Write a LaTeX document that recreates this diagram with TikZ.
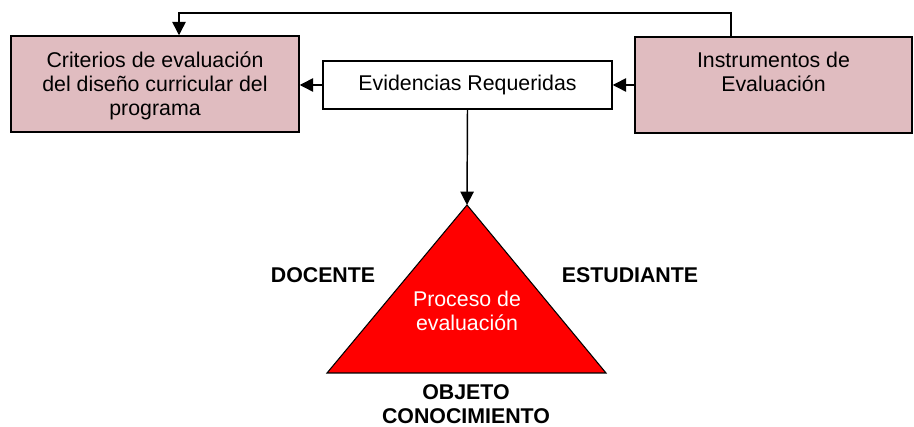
\documentclass[tikz,border=0pt]{standalone}
\usepackage{fontspec}
\setmainfont{Liberation Sans}
\usepackage{tikz}
\usetikzlibrary{arrows.meta}
\usetikzlibrary{positioning}
\definecolor{rosado}{RGB}{224,188,192}
\definecolor{rojo}{RGB}{255,0,0}
\tikzset{
  mapa/.style={
    x=0.75pt, y=-0.75pt,
    font={\fontsize{16}{18}\selectfont},
    caja/.style={rectangle, draw, line width=1.1pt, align=center, inner sep=0pt},
    caja rosa/.style={caja, fill=rosado},
    flecha/.style={line width=1.1pt, -{Triangle[length=10pt,width=10pt]}},
    polo/.style={font={\fontsize{16}{18}\selectfont\bfseries}, align=center},
  }
}

\begin{document}
\begin{tikzpicture}[mapa]
    \useasboundingbox (0,0) rectangle (914,427);

    \node[caja rosa, minimum width=216pt, minimum height=72pt] (criterios) at (155,84) {};
    \node[align=center] (criteriostxt) at (155,86)
        {Criterios de evaluación\\del diseño curricular del\\programa};
    \node[caja rosa, minimum width=207.75pt, minimum height=72pt] (instrumentos) at (773.5,85) {};
    \node[align=center] (instrumentostxt) at (773.5,72) {Instrumentos de\\Evaluación};
    \node[caja, fill=white, minimum width=216.75pt, minimum height=36pt] (evidencias) at (467.5,85)
        {Evidencias Requeridas};

    \coordinate (lazoder) at (731,13);
    \coordinate (lazoizq) at (179,13);
    \draw[flecha] (lazoder |- instrumentos.north) -- (lazoder) -- (lazoizq) -- (lazoizq |- criterios.north);
    \draw[flecha] (instrumentos.west |- evidencias.east) -- (evidencias.east);
    \draw[flecha] (evidencias.west) -- (criterios.east |- evidencias.west);

    \coordinate (vertice) at (467,205);
    \coordinate (baseizq) at (327,373);
    \coordinate (baseder) at (606,373);
    \draw[fill=rojo, line width=0.8pt, line join=miter] (vertice) -- (baseizq) -- (baseder) -- cycle;
    \draw[flecha] (evidencias.south) -- (vertice);

    \node[align=center, text=white] (proceso) at (467,311) {Proceso de\\evaluación};
    \node[polo] (docente) at (323,275) {DOCENTE};
    \node[polo] (estudiante) at (630,275) {ESTUDIANTE};
    \node[polo] (objeto) at (466,404) {OBJETO\\CONOCIMIENTO};
\end{tikzpicture}
\end{document}
